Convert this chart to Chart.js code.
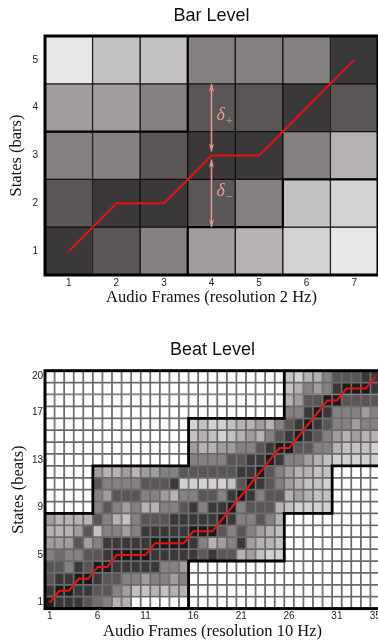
<!DOCTYPE html>
<html>
<head>
<meta charset="utf-8">
<script src="https://cdn.jsdelivr.net/npm/chart.js@4.4.0/dist/chart.umd.min.js"></script>
<style>
html, body { margin: 0; padding: 0; background: #fff; overflow: hidden; width: 378px; height: 641px; }
#barBox { position: absolute; left: 0; top: 0; width: 378px; height: 320px; }
#beatBox { position: absolute; left: 0; top: 320px; width: 380px; height: 330px; }
</style>
</head>
<body>
<div id="barBox"><canvas id="barChart"></canvas></div>
<div id="beatBox"><canvas id="beatChart"></canvas></div>
<script>
// ---- bar level (7 frames x 5 states), darkness 0 = white .. 10 = black
var barFrames = [1, 2, 3, 4, 5, 6, 7];
var barStateTicks = [1, 2, 3, 4, 5];
var barCells = [            // listed from state 5 down to state 1
  [1, 3, 3, 6, 6, 6, 9],
  [5, 5, 6, 8, 8, 9, 8],
  [6, 6, 8, 9, 9, 6, 4],
  [8, 9, 9, 8, 6, 3, 2],
  [9, 8, 6, 5, 4, 2, 1]
];
var barPath = [1, 2, 2, 3, 3, 4, 5];
var barBandLow = [1, 1, 1, 2, 2, 3, 3];
var barBandHigh = [3, 3, 3, 5, 5, 5, 5];
var deltaFrame = 4;
var deltaPlus = [3, 4.5];
var deltaMinus = [3, 1.5];

// ---- beat level (35 frames x 20 states)
var beatFrames = [1,2,3,4,5,6,7,8,9,10,11,12,13,14,15,16,17,18,19,20,21,22,23,24,25,26,27,28,29,30,31,32,33,34,35];
var beatFrameTicks = [1, 6, 11, 16, 21, 26, 31, 35];
var beatStateTicks = [1, 5, 9, 13, 17, 20];
var beatCells = [           // listed from state 20 down to state 1
  [0,0,0,0,0,0,0,0,0,0,0,0,0,0,0,0,0,0,0,0,0,0,0,0,0,3,2,4,4,6,8,8,8,9,9],
  [0,0,0,0,0,0,0,0,0,0,0,0,0,0,0,0,0,0,0,0,0,0,0,0,0,3,4,6,5,6,9,10,10,10,9],
  [0,0,0,0,0,0,0,0,0,0,0,0,0,0,0,0,0,0,0,0,0,0,0,0,0,4,5,8,8,10,10,8,8,8,8],
  [0,0,0,0,0,0,0,0,0,0,0,0,0,0,0,0,0,0,0,0,0,0,0,0,0,6,6,9,10,9,6,6,6,5,6],
  [0,0,0,0,0,0,0,0,0,0,0,0,0,0,0,2,3,2,2,3,4,4,5,4,6,8,9,10,9,8,6,6,5,6,6],
  [0,0,0,0,0,0,0,0,0,0,0,0,0,0,0,3,4,3,2,3,4,5,4,6,8,9,10,9,8,6,5,4,5,4,4],
  [0,0,0,0,0,0,0,0,0,0,0,0,0,0,0,5,4,4,5,5,6,6,8,9,10,10,8,8,6,6,4,3,3,3,2],
  [0,0,0,0,0,0,0,0,0,0,0,0,0,0,0,6,6,6,6,8,8,9,9,10,9,6,6,5,4,3,2,2,2,2,2],
  [0,0,0,0,0,5,4,4,5,4,5,5,6,6,8,8,8,8,8,8,9,9,10,8,6,5,4,4,3,3,0,0,0,0,0],
  [0,0,0,0,0,8,6,6,6,6,8,8,8,9,2,2,2,2,2,3,8,10,9,8,6,5,4,3,3,2,0,0,0,0,0],
  [0,0,0,0,0,6,5,8,8,8,6,6,5,4,6,6,8,8,6,9,10,9,6,8,8,4,5,4,3,3,0,0,0,0,0],
  [0,0,0,0,0,6,8,6,5,6,4,4,6,6,8,9,6,9,9,10,6,8,8,8,4,3,2,2,2,2,0,0,0,0,0],
  [5,4,4,4,4,8,6,4,3,6,8,8,8,9,9,9,9,9,10,9,6,6,8,6,4,0,0,0,0,0,0,0,0,0,0],
  [4,4,4,5,8,3,6,6,5,6,9,9,9,9,9,10,10,10,8,6,8,6,5,4,3,0,0,0,0,0,0,0,0,0,0],
  [5,5,5,8,5,6,9,9,9,9,9,10,10,10,10,9,6,4,5,6,9,5,4,4,3,0,0,0,0,0,0,0,0,0,0],
  [6,7,6,6,8,8,9,10,10,10,10,9,9,9,9,9,8,9,8,8,4,5,3,2,2,0,0,0,0,0,0,0,0,0,0],
  [8,8,6,9,8,10,10,9,9,9,9,9,6,6,5,0,0,0,0,0,0,0,0,0,0,0,0,0,0,0,0,0,0,0,0],
  [8,9,9,10,10,9,8,8,6,6,5,6,6,5,6,0,0,0,0,0,0,0,0,0,0,0,0,0,0,0,0,0,0,0,0],
  [9,10,10,9,9,8,8,6,5,3,3,4,3,4,4,0,0,0,0,0,0,0,0,0,0,0,0,0,0,0,0,0,0,0,0],
  [10,9,9,9,8,7,6,4,4,0,0,0,0,0,0,0,0,0,0,0,0,0,0,0,0,0,0,0,0,0,0,0,0,0,0]
];
var beatPath = [1,2,2,3,3,4,4,5,5,5,5,6,6,6,6,7,7,7,8,9,10,11,12,13,14,14,15,16,17,18,18,19,19,19,20];
var beatBandLow = [1,1,1,1,1,1,1,1,1,1,1,1,1,1,1,5,5,5,5,5,5,5,5,5,5,9,9,9,9,9,13,13,13,13,13];
var beatBandHigh = [8,8,8,8,8,12,12,12,12,12,12,12,12,12,12,16,16,16,16,16,16,16,16,16,16,20,20,20,20,20,20,20,20,20,20];

var grayScale = ['#ffffff', '#e8e8e8', '#d3d2d1', '#c4c2c1', '#b5b2b1', '#a09d9c',
                 '#858180', '#706c6b', '#5a5655', '#3b3839', '#1c1a1b'];
var SANS = 'Liberation Sans';
var SERIF = 'Liberation Serif';
var RED = 'rgb(232,18,18)';
var PINK = 'rgb(238,150,150)';

function cellSets(frames, rows, edgeColor, edgeWidth) {
  var top = rows.length;
  return rows.map(function (row, r) {
    var s = top - r;
    return {
      type: 'bar',
      data: frames.map(function (f) { return { x: f, y: [s - 0.5, s + 0.5] }; }),
      backgroundColor: row.map(function (v) { return grayScale[v]; }),
      borderColor: edgeColor,
      borderWidth: edgeWidth,
      borderSkipped: false,
      grouped: false,
      barPercentage: 1,
      categoryPercentage: 1,
      order: 3
    };
  });
}

function bandEdge(frames, levels, side, width) {
  var pts = [];
  frames.forEach(function (f, i) {
    pts.push({ x: f - 0.5, y: levels[i] + side });
    pts.push({ x: f + 0.5, y: levels[i] + side });
  });
  return { type: 'line', data: pts, borderColor: '#000', borderWidth: width, pointRadius: 0,
           tension: 0, borderJoinStyle: 'miter', order: 1 };
}

function pathSet(frames, path) {
  return { type: 'line', data: frames.map(function (f, i) { return { x: f, y: path[i] }; }),
           borderColor: RED, borderWidth: 2, pointRadius: 0, tension: 0, order: 0 };
}

var frame = {
  id: 'frame',
  afterDatasetsDraw: function (chart) {
    var a = chart.chartArea, ctx = chart.ctx;
    ctx.save();
    ctx.strokeStyle = '#000';
    ctx.lineWidth = 3;
    ctx.strokeRect(a.left, a.top, a.right - a.left, a.bottom - a.top);
    ctx.restore();
  }
};

var deltaArrows = {
  id: 'deltaArrows',
  afterDatasetsDraw: function (chart) {
    var xs = chart.scales.x, ys = chart.scales.y, ctx = chart.ctx;
    var px = xs.getPixelForValue(deltaFrame);
    ctx.save();
    [[deltaPlus, '+'], [deltaMinus, '\u2212']].forEach(function (d) {
      var y0 = ys.getPixelForValue(d[0][0]), y1 = ys.getPixelForValue(d[0][1]);
      var dir = y1 < y0 ? -1 : 1;
      var a = y0 + dir * 4, b = y1;
      ctx.strokeStyle = PINK; ctx.fillStyle = PINK; ctx.lineWidth = 1.5;
      ctx.beginPath(); ctx.moveTo(px, a); ctx.lineTo(px, b); ctx.stroke();
      [[a, -dir], [b, dir]].forEach(function (h) {
        ctx.beginPath();
        ctx.moveTo(px, h[0]);
        ctx.lineTo(px - 2.6, h[0] - h[1] * 8);
        ctx.lineTo(px, h[0] - h[1] * 5.5);
        ctx.lineTo(px + 2.6, h[0] - h[1] * 8);
        ctx.closePath(); ctx.fill();
      });
      var mid = (a + b) / 2;
      ctx.font = 'italic 18px "' + SERIF + '"';
      ctx.textAlign = 'left'; ctx.textBaseline = 'middle';
      ctx.fillText('\u03b4', px + 5, mid - 2);
      ctx.font = '13px "' + SERIF + '"';
      ctx.fillText(d[1], px + 14, mid + 4);
    });
    ctx.restore();
  }
};

function tickList(list) {
  return function (scale) { scale.ticks = list.map(function (v) { return { value: v }; }); };
}

function makeOptions(cfg) {
  return {
    responsive: true,
    maintainAspectRatio: false,
    animation: false,
    events: [],
    layout: { padding: 0 },
    plugins: {
      legend: { display: false },
      tooltip: { enabled: false },
      title: {
        display: true, text: cfg.title, fullSize: false, color: '#111',
        font: { family: SANS, size: 18, weight: 'normal' },
        padding: { top: cfg.titleTop, bottom: cfg.titleBottom }
      }
    },
    scales: {
      x: {
        type: 'linear', min: 0.5, max: cfg.nFrames + 0.5, offset: false,
        grid: { display: false, drawTicks: false }, border: { display: false },
        afterBuildTicks: tickList(cfg.xTicks),
        ticks: { font: { family: SANS, size: 10 }, color: '#222', padding: 2, maxRotation: 0, autoSkip: false },
        title: { display: true, text: cfg.xTitle, color: '#111',
                 font: { family: SERIF, size: 16.5 }, padding: { top: 0, bottom: cfg.xTitlePad } },
        afterFit: function (s) { s.height = cfg.xHeight; s.paddingLeft = 0; s.paddingRight = 0; }
      },
      y: {
        type: 'linear', min: 0.5, max: cfg.nStates + 0.5,
        grid: { display: false, drawTicks: false }, border: { display: false },
        afterBuildTicks: tickList(cfg.yTicks),
        ticks: { font: { family: SANS, size: 10 }, color: '#222', padding: cfg.yTickPad, autoSkip: false },
        title: { display: true, text: cfg.yTitle, color: '#111',
                 font: { family: SERIF, size: 16.5 }, padding: { top: cfg.yTitlePad, bottom: 0 } },
        afterFit: function (s) { s.width = 45; s.paddingTop = 0; s.paddingBottom = 0; }
      }
    }
  };
}

new Chart(document.getElementById('barChart'), {
  type: 'bar',
  data: {
    datasets: cellSets(barFrames, barCells, '#111', 1).concat([
      bandEdge(barFrames, barBandLow, -0.5, 2.2),
      bandEdge(barFrames, barBandHigh, 0.5, 2.2),
      pathSet(barFrames, barPath)
    ])
  },
  options: makeOptions({
    title: 'Bar Level', titleTop: 5, titleBottom: 9.4,
    nFrames: 7, nStates: 5, xTicks: barFrames, yTicks: barStateTicks,
    xTitle: 'Audio Frames (resolution 2 Hz)', xTitlePad: 12, xHeight: 45,
    yTitle: 'States (bars)', yTitlePad: 6.5, yTickPad: 7
  }),
  plugins: [frame, deltaArrows]
});

new Chart(document.getElementById('beatChart'), {
  type: 'bar',
  data: {
    datasets: cellSets(beatFrames, beatCells, '#6a6a6a', 1.2).concat([
      bandEdge(beatFrames, beatBandLow, -0.5, 2.8),
      bandEdge(beatFrames, beatBandHigh, 0.5, 2.8),
      pathSet(beatFrames, beatPath)
    ])
  },
  options: makeOptions({
    title: 'Beat Level', titleTop: 19.2, titleBottom: 9.9,
    nFrames: 35, nStates: 20, xTicks: beatFrameTicks, yTicks: beatStateTicks,
    xTitle: 'Audio Frames (resolution 10 Hz)', xTitlePad: 8.4, xHeight: 41.4,
    yTitle: 'States (beats)', yTitlePad: 9, yTickPad: 2
  }),
  plugins: [frame]
});
</script>
</body>
</html>
